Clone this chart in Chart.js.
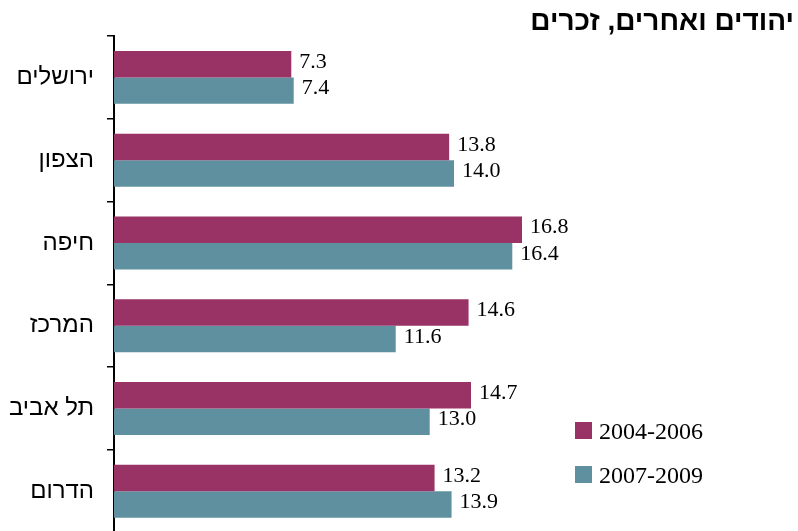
<!DOCTYPE html>
<html>
<head>
<meta charset="utf-8">
<script src="https://cdn.jsdelivr.net/npm/chart.js@4"></script>
<style>
  html, body { margin: 0; padding: 0; background: #fff; }
  #wrap { position: relative; width: 798px; height: 531px; overflow: hidden; }
  #title {
    position: absolute; right: 4px; top: 5px; line-height: 34px;
    font: bold 28px "Liberation Sans", Arial, sans-serif; color: #000; direction: rtl;
  }
  #legend { position: absolute; left: 575px; top: 418px; font: 24px "Liberation Serif", serif; color: #000; }
  .item { height: 44px; line-height: 26px; display: flex; align-items: flex-start; }
  .box { width: 17px; height: 17px; margin-top: 4px; margin-right: 7px; }
</style>
</head>
<body>
<div id="wrap">
  <canvas id="chart" width="798" height="560"></canvas>
  <div id="title">יהודים ואחרים, זכרים</div>
  <div id="legend"></div>
</div>
<script>
"use strict"

const regions = ["ירושלים", "הצפון", "חיפה", "המרכז", "תל אביב", "הדרום"];
const period1 = [7.3, 13.8, 16.8, 14.6, 14.7, 13.2];
const period2 = [7.4, 14.0, 16.4, 11.6, 13.0, 13.9];
const seriesNames = ["2004-2006", "2007-2009"];
const colors = ["#993366", "#5f909f"];

// labels at the end of each bar
const valueLabels = {
    id: "valueLabels",
    afterDatasetsDraw(chart) {
        const ctx = chart.ctx;
        ctx.save();
        ctx.font = '22px "Liberation Serif", serif';
        ctx.fillStyle = "#000";
        ctx.textAlign = "left";
        ctx.textBaseline = "middle";
        chart.data.datasets.forEach((ds, i) => {
            chart.getDatasetMeta(i).data.forEach((bar, k) => {
                ctx.fillText(ds.data[k].toFixed(1), bar.x + 8, bar.y - 2);
            });
        });
        ctx.restore();
    }
};

let chart = new Chart(document.getElementById("chart"), {
    type: "bar",
    data: {
        labels: regions,
        datasets: [
            { label: seriesNames[0], data: period1, backgroundColor: colors[0] },
            { label: seriesNames[1], data: period2, backgroundColor: colors[1] }
        ]
    },
    options: {
        indexAxis: "y",
        responsive: false,
        animation: false,
        categoryPercentage: 0.64,
        barPercentage: 1,
        layout: { padding: { top: 36, bottom: 22, left: 0, right: 4 } },
        plugins: { legend: { display: false }, tooltip: { enabled: false } },
        scales: {
            x: { display: false, min: 0, max: 28 },
            y: {
                afterFit: function (scale) { scale.width = 114; },
                border: { display: true, color: "#000", width: 2 },
                grid: { drawOnChartArea: false, drawTicks: true, tickLength: 7, color: "#000", lineWidth: 1.5 },
                ticks: { color: "#000", padding: 13, font: { family: '"Liberation Sans", Arial, sans-serif', size: 24 } }
            }
        }
    },
    plugins: [valueLabels]
});

let legend = document.getElementById("legend");
seriesNames.forEach((name, i) => {
    let item = document.createElement("div");
    item.className = "item";
    item.innerHTML = '<span class="box" style="background:' + colors[i] + '"></span><span>' + name + '</span>';
    legend.appendChild(item);
});
</script>
</body>
</html>
